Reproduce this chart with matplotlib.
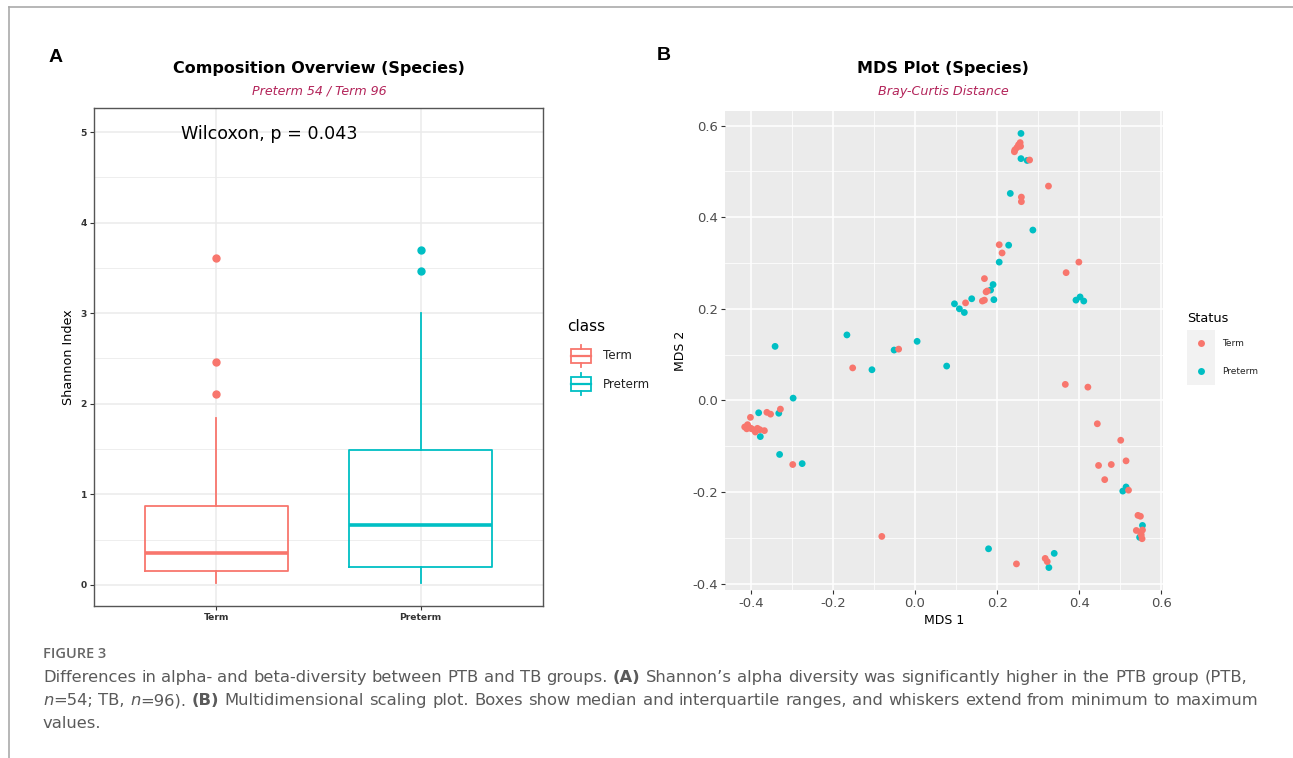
import matplotlib
matplotlib.use('Agg')
import matplotlib.pyplot as plt
from matplotlib.patches import Rectangle
from matplotlib.lines import Line2D
import numpy as np

plt.rcParams['font.family'] = ['DejaVu Sans']

W, H = 1293, 758

# ---------------- Panel A data ----------------
groups = ['Term', 'Preterm']
box_q1 = [0.15, 0.20]
box_med = [0.35, 0.66]
box_q3 = [0.87, 1.49]
box_lo = [0.02, 0.02]
box_hi = [1.84, 3.00]
box_fliers = [[3.61, 2.46, 2.11], [3.70, 3.47]]
yticksA = [0, 1, 2, 3, 4, 5]

# ---------------- Panel B data ----------------
term_x = [0.256, 0.257, 0.248, 0.243, 0.242, 0.252, 0.279, 0.325, 0.259, 0.259,
          0.205, 0.212, 0.399, 0.368, 0.169, 0.173, 0.176, 0.169, 0.164, 0.123,
          -0.040, -0.152, 0.366, 0.421, -0.328, -0.361, -0.352, -0.401, -0.415, -0.408,
          -0.402, -0.398, -0.391, -0.384, -0.389, -0.378, -0.367, -0.410, -0.298, 0.444,
          0.501, 0.514, 0.447, 0.478, 0.462, 0.520, 0.543, 0.549, 0.539, 0.554,
          0.551, 0.553, 0.550, -0.081, 0.247, 0.317, 0.322]
term_y = [0.563, 0.555, 0.552, 0.547, 0.543, 0.558, 0.525, 0.468, 0.444, 0.434,
          0.340, 0.322, 0.302, 0.279, 0.266, 0.237, 0.239, 0.219, 0.217, 0.213,
          0.112, 0.071, 0.035, 0.029, -0.019, -0.026, -0.030, -0.037, -0.058, -0.053,
          -0.060, -0.062, -0.065, -0.061, -0.069, -0.064, -0.066, -0.062, -0.140, -0.051,
          -0.087, -0.132, -0.142, -0.140, -0.173, -0.196, -0.251, -0.253, -0.284, -0.283,
          -0.294, -0.302, -0.290, -0.297, -0.357, -0.345, -0.352]
pre_x = [0.258, 0.258, 0.273, 0.232, 0.287, 0.228, 0.205, 0.190, 0.184, 0.192,
         0.392, 0.402, 0.411, 0.138, 0.096, 0.108, 0.120, -0.166, 0.005, -0.341,
         -0.051, -0.105, 0.077, -0.297, -0.332, -0.381, -0.377, -0.330, -0.275, 0.506,
         0.514, 0.554, 0.547, 0.179, 0.326, 0.339]
pre_y = [0.583, 0.528, 0.524, 0.452, 0.372, 0.339, 0.302, 0.253, 0.241, 0.220,
         0.219, 0.226, 0.217, 0.222, 0.211, 0.200, 0.192, 0.143, 0.129, 0.118,
         0.110, 0.067, 0.075, 0.005, -0.028, -0.027, -0.079, -0.118, -0.138, -0.198,
         -0.189, -0.273, -0.299, -0.324, -0.365, -0.334]
xticksB = [-0.4, -0.2, 0.0, 0.2, 0.4, 0.6]
yticksB = [-0.4, -0.2, 0.0, 0.2, 0.4, 0.6]

caption_lines = [
    [("Differences in alpha- and beta-diversity between PTB and TB groups. ", 'r'),
     ("(A)", 'b'),
     (" Shannon\u2019s alpha diversity was significantly higher in the PTB group (PTB,", 'r')],
    [("n", 'i'), ("=54; TB, ", 'r'), ("n", 'i'), ("=96). ", 'r'), ("(B)", 'b'),
     (" Multidimensional scaling plot. Boxes show median and interquartile ranges, and whiskers extend from minimum to maximum", 'r')],
    [("values.", 'r')],
]
caption_ends = [1247, 1258, None]

RED = '#F8766D'
TEAL = '#00BFC4'
SUB = '#B3245A'
box_colors = [RED, TEAL]

fig = plt.figure(figsize=(W / 100, H / 100), dpi=100)


def fx(x):
    return x / W


def fy(y):
    return 1 - y / H


# frame lines
fig.add_artist(Line2D([fx(9), 1], [fy(7), fy(7)], color='#AAAAAA', lw=1.2))
fig.add_artist(Line2D([fx(9), fx(9)], [fy(7), 0], color='#AAAAAA', lw=1.2))

# ---------------- Panel A ----------------
axA = fig.add_axes([fx(94), fy(606), 449 / W, 498 / H])
axA.set_xlim(0.4, 2.6)
axA.set_ylim(-0.232, 5.265)
axA.set_xticks([1, 2])
axA.set_xticklabels(groups, fontsize=6.6, fontweight='bold', color='#333333')
axA.set_yticks(yticksA)
axA.set_yticklabels([str(v) for v in yticksA], fontsize=6.6, fontweight='bold', color='#333333')
axA.set_yticks(np.arange(0.5, 5.0, 1.0), minor=True)
axA.grid(which='major', color='#EBEBEB', lw=1.1)
axA.grid(which='minor', axis='y', color='#EBEBEB', lw=0.6)
axA.set_axisbelow(True)
axA.tick_params(which='major', length=3, color='#333333', width=0.8, pad=2)
axA.tick_params(which='minor', length=0)
for s in axA.spines.values():
    s.set_color('#555555')
    s.set_linewidth(1.0)

stats = []
for i, g in enumerate(groups):
    stats.append(dict(label=g, q1=box_q1[i], med=box_med[i], q3=box_q3[i],
                      whislo=box_lo[i], whishi=box_hi[i], fliers=np.array(box_fliers[i])))
bp = axA.bxp(stats, positions=[1, 2], widths=0.7, showcaps=False, patch_artist=False,
             manage_ticks=False)
for i, c in enumerate(box_colors):
    bp['boxes'][i].set_color(c)
    bp['boxes'][i].set_linewidth(1.3)
    bp['medians'][i].set_color(c)
    bp['medians'][i].set_linewidth(2.6)
    for w in bp['whiskers'][2 * i:2 * i + 2]:
        w.set_color(c)
        w.set_linewidth(1.3)
    f = bp['fliers'][i]
    f.set_marker('o')
    f.set_markerfacecolor(c)
    f.set_markeredgecolor(c)
    f.set_markersize(5)

axA.text(1.26, 4.98, 'Wilcoxon, p = 0.043', ha='center', va='center', fontsize=12.6, color='black')
axA.set_ylabel('Shannon Index', fontsize=9.2, labelpad=4)

fig.text(fx(319), fy(69), 'Composition Overview (Species)', ha='center', va='center',
         fontsize=11.5, fontweight='bold')
fig.text(fx(319), fy(91), 'Preterm 54 / Term 96', ha='center', va='center',
         fontsize=9.1, style='italic', color=SUB)
fig.text(fx(56), fy(57), 'A', ha='center', va='center', fontsize=14, fontweight='bold',
         family='Liberation Sans')

# legend A
fig.text(fx(567), fy(327), 'class', ha='left', va='center', fontsize=11)
for i, (g, c) in enumerate(zip(groups, box_colors)):
    cy = 356 + 28 * i
    fig.add_artist(Rectangle((fx(571), fy(cy + 7)), 20 / W, 14 / H, fill=False, ec=c, lw=1.3))
    fig.add_artist(Line2D([fx(571), fx(591)], [fy(cy), fy(cy)], color=c, lw=1.6))
    fig.add_artist(Line2D([fx(581), fx(581)], [fy(cy - 7), fy(cy - 11)], color=c, lw=1.3))
    fig.add_artist(Line2D([fx(581), fx(581)], [fy(cy + 7), fy(cy + 11)], color=c, lw=1.3))
    fig.text(fx(603), fy(cy), g, ha='left', va='center', fontsize=8.6, color='#222222')

# ---------------- Panel B ----------------
axB = fig.add_axes([fx(725), fy(590), 438 / W, 479 / H])
axB.set_facecolor('#EBEBEB')
axB.set_xlim(-0.463, 0.604)
axB.set_ylim(-0.414, 0.632)
axB.set_xticks(xticksB)
axB.set_yticks(yticksB)
axB.set_xticklabels(['%.1f' % v for v in xticksB], fontsize=9.5, color='#4D4D4D')
axB.set_yticklabels(['%.1f' % v for v in yticksB], fontsize=9.5, color='#4D4D4D')
axB.set_xticks([-0.3, -0.1, 0.1, 0.3, 0.5], minor=True)
axB.set_yticks([-0.3, -0.1, 0.1, 0.3, 0.5], minor=True)
axB.grid(which='major', color='white', lw=1.1)
axB.grid(which='minor', color='white', lw=0.55)
axB.set_axisbelow(True)
axB.tick_params(which='major', length=3, color='#333333', width=0.8, pad=2)
axB.tick_params(which='minor', length=0)
for s in axB.spines.values():
    s.set_visible(False)
axB.scatter(pre_x, pre_y, s=24, color=TEAL, edgecolors='none', zorder=3)
axB.scatter(term_x, term_y, s=24, color=RED, edgecolors='none', zorder=3)
axB.set_xlabel('MDS 1', fontsize=9, labelpad=3)
axB.set_ylabel('MDS 2', fontsize=9, labelpad=4)

fig.text(fx(943), fy(69), 'MDS Plot (Species)', ha='center', va='center',
         fontsize=11.5, fontweight='bold')
fig.text(fx(943), fy(92), 'Bray-Curtis Distance', ha='center', va='center',
         fontsize=9.2, style='italic', color=SUB)
fig.text(fx(664), fy(56), 'B', ha='center', va='center', fontsize=14, fontweight='bold',
         family='Liberation Sans')

# legend B
fig.text(fx(1187), fy(318), 'Status', ha='left', va='center', fontsize=9.3)
fig.add_artist(Rectangle((fx(1187), fy(385)), 28 / W, 55 / H, color='#F2F2F2', lw=0))
for i, (g, c) in enumerate(zip(groups, box_colors)):
    cy = 343 + 28 * i
    fig.add_artist(Line2D([fx(1201)], [fy(cy)], marker='o', markersize=5, color=c,
                          markeredgecolor='none', linestyle='none'))
    fig.text(fx(1222), fy(cy), g, ha='left', va='center', fontsize=6.5, color='#222222')

# ---------------- Caption ----------------
CAP = '#5A5A5A'
CF = 'DejaVu Sans'
fig.text(fx(43), fy(658), 'FIGURE 3', ha='left', va='baseline', fontsize=10.5,
         color='#666666', family='Open Sans', fontweight='semibold')

renderer = fig.canvas.get_renderer()


def style_kw(sty, size):
    kw = dict(fontsize=size, color=CAP, family=CF, va='baseline', ha='left')
    if sty == 'b':
        kw['fontweight'] = 'bold'
    elif sty == 'i':
        kw['style'] = 'italic'
    return kw


def tok_width(txt, sty, size):
    kw = style_kw(sty, size)
    t1 = fig.text(0, 0, 'X' + txt + 'X', **kw)
    t2 = fig.text(0, 0, 'XX', **kw)
    w = t1.get_window_extent(renderer).width - t2.get_window_extent(renderer).width
    t1.remove()
    t2.remove()
    return w


# caption size so that the first line naturally spans its width in the figure
base = 10.0
natural = sum(tok_width(t, s, base) for t, s in caption_lines[0])
CS = base * (caption_ends[0] - 43) / natural
SPACE = tok_width(' ', 'r', CS)


def rich_line(x_px, y_px, pieces, end_px=None):
    words = [[]]
    for txt, sty in pieces:
        parts = txt.split(' ')
        for k, p in enumerate(parts):
            if k > 0:
                words.append([])
            if p:
                words[-1].append((p, sty))
    words = [w for w in words if w]
    widths = [[tok_width(p, s, CS) for p, s in w] for w in words]
    total = sum(sum(ws) for ws in widths)
    gap = SPACE
    if end_px is not None and len(words) > 1:
        gap = (end_px - x_px - total) / (len(words) - 1)
    x = x_px
    for w, ws in zip(words, widths):
        for (p, s), pw in zip(w, ws):
            fig.text(fx(x), fy(y_px), p, **style_kw(s, CS))
            x += pw
        x += gap


for k, (line, end) in enumerate(zip(caption_lines, caption_ends)):
    rich_line(43, 682 + 23 * k, line, end)

fig.savefig('out.png', dpi=100)
